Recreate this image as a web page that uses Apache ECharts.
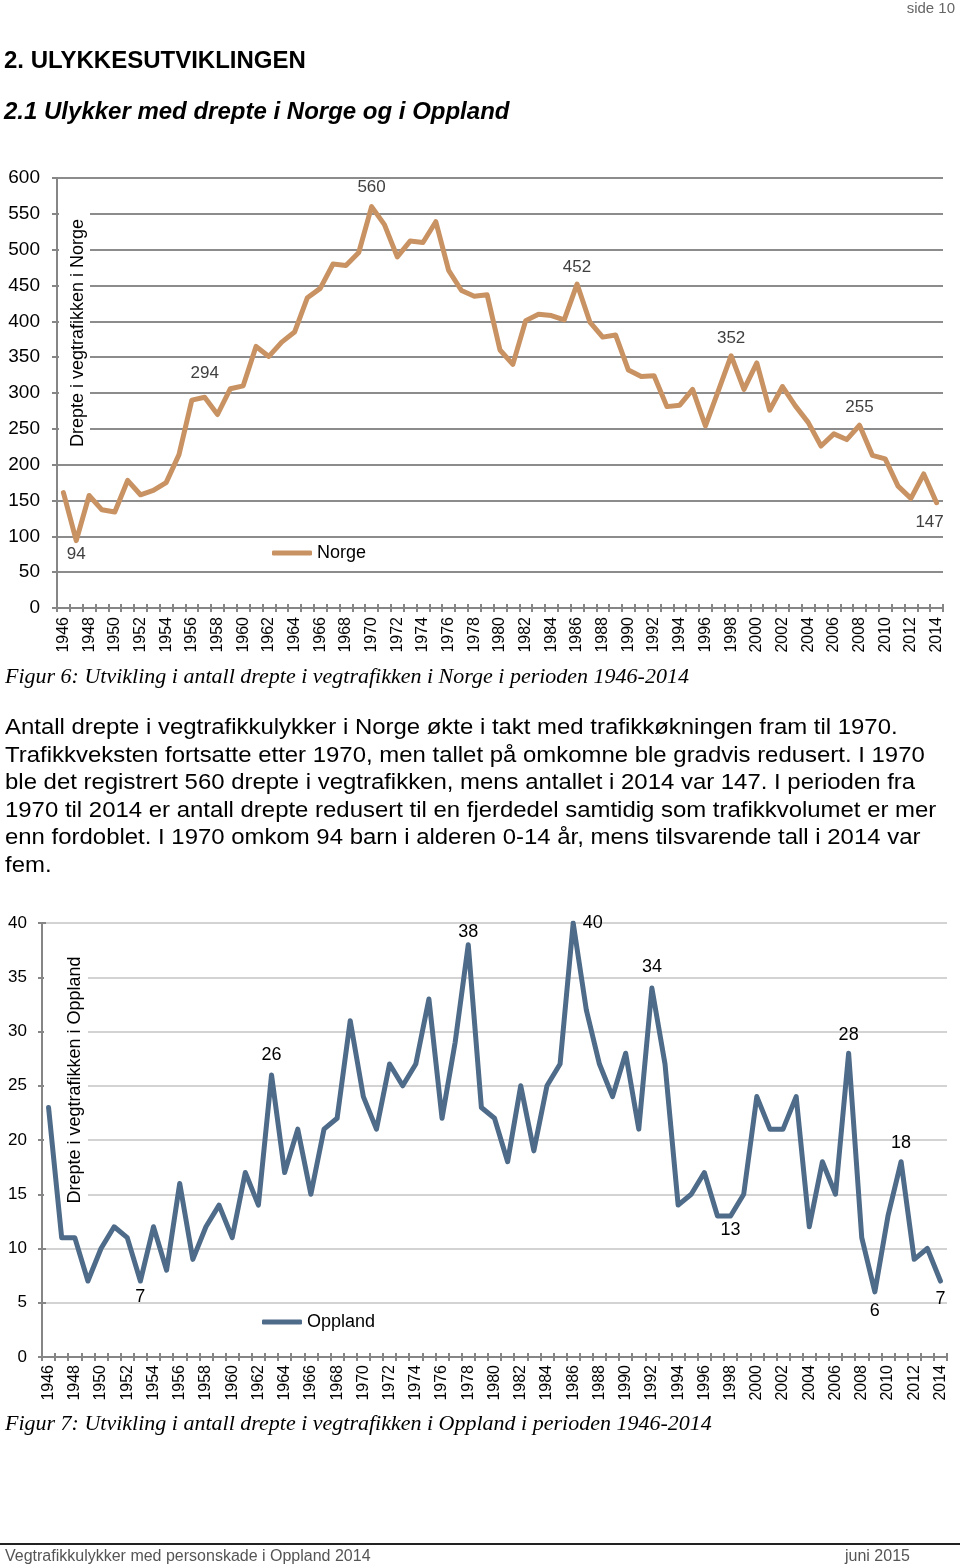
<!DOCTYPE html>
<html>
<head>
<meta charset="utf-8">
<script src="https://cdn.jsdelivr.net/npm/echarts@6/dist/echarts.min.js"></script>
<style>
  html, body { margin:0; padding:0; background:#fff; }
  body { width:960px; height:1567px; position:relative; overflow:hidden; font-family:'Liberation Sans', Arial, sans-serif; }
  #chart { position:absolute; left:0; top:0; width:960px; height:1567px; }
  .t { position:absolute; white-space:nowrap; z-index:5; transform-origin:0 50%; }
  .side { right:5px; top:0px; font-size:15px; line-height:15px; color:#666; }
  .h1 { left:4px; top:47px; font-size:24px; line-height:26px; font-weight:bold; color:#000; }
  .h2 { left:4px; top:98px; font-size:24px; line-height:26px; font-weight:bold; font-style:italic; color:#000; }
  .cap { left:5px; font-family:'Liberation Serif', 'Times New Roman', serif; font-style:italic; font-size:20px; line-height:22px; color:#000; transform:scaleX(1.1); }
  .p { left:5px; font-size:22px; line-height:24px; color:#000; transform:scaleX(1.088); }
  .foot { top:1547px; font-size:16px; line-height:18px; color:#555; }
  #rule { position:absolute; left:0; top:1543px; width:960px; height:2px; background:#222; z-index:5; }
</style>
</head>
<body>
<div id="chart"></div>
<div class="t side">side 10</div>
<div class="t h1">2. ULYKKESUTVIKLINGEN</div>
<div class="t h2">2.1 Ulykker med drepte i Norge og i Oppland</div>
<div class="t cap" style="top:665px">Figur 6: Utvikling i antall drepte i vegtrafikken i Norge i perioden 1946-2014</div>
<div class="t p" style="top:715px">Antall drepte i vegtrafikkulykker i Norge økte i takt med trafikkøkningen fram til 1970.</div>
<div class="t p" style="top:743px">Trafikkveksten fortsatte etter 1970, men tallet på omkomne ble gradvis redusert. I 1970</div>
<div class="t p" style="top:770px">ble det registrert 560 drepte i vegtrafikken, mens antallet i 2014 var 147. I perioden fra</div>
<div class="t p" style="top:798px">1970 til 2014 er antall drepte redusert til en fjerdedel samtidig som trafikkvolumet er mer</div>
<div class="t p" style="top:825px">enn fordoblet. I 1970 omkom 94 barn i alderen 0-14 år, mens tilsvarende tall i 2014 var</div>
<div class="t p" style="top:853px">fem.</div>
<div class="t cap" style="top:1412px">Figur 7: Utvikling i antall drepte i vegtrafikken i Oppland i perioden 1946-2014</div>
<div id="rule"></div>
<div class="t foot" style="left:5px">Vegtrafikkulykker med personskade i Oppland 2014</div>
<div class="t foot" style="left:845px">juni 2015</div>
<script>
// ---- data ----
const years = ['1946','1947','1948','1949','1950','1951','1952','1953','1954','1955',
  '1956','1957','1958','1959','1960','1961','1962','1963','1964','1965',
  '1966','1967','1968','1969','1970','1971','1972','1973','1974','1975',
  '1976','1977','1978','1979','1980','1981','1982','1983','1984','1985',
  '1986','1987','1988','1989','1990','1991','1992','1993','1994','1995',
  '1996','1997','1998','1999','2000','2001','2002','2003','2004','2005',
  '2006','2007','2008','2009','2010','2011','2012','2013','2014'];
const norge = [161, 94, 157, 137, 134, 178, 158, 164, 175, 214,
  290, 294, 270, 306, 310, 365, 351, 371, 385, 433,
  446, 480, 478, 496, 560, 535, 490, 512, 510, 539,
  471, 443, 435, 437, 360, 340, 401, 410, 408, 402,
  452, 399, 378, 381, 332, 323, 324, 281, 283, 305,
  254, 303, 352, 305, 342, 276, 309, 282, 259, 226,
  243, 235, 255, 213, 208, 170, 153, 187, 147];
const oppland = [23, 11, 11, 7, 10, 12, 11, 7, 12, 8,
  16, 9, 12, 14, 11, 17, 14, 26, 17, 21,
  15, 21, 22, 31, 24, 21, 27, 25, 27, 33,
  22, 29, 38, 23, 22, 18, 25, 19, 25, 27,
  40, 32, 27, 24, 28, 21, 34, 27, 14, 15,
  17, 13, 13, 15, 24, 21, 21, 24, 12, 18,
  15, 28, 11, 6, 13, 18, 9, 10, 7];
const norgeTicks = [0, 600, 50];
const opplandTicks = [0, 40, 5];
const norgeLabelled = ['1947','1957','1970','1986','1998','2008','2014'];
const opplandLabelled = ['1953','1963','1978','1986','1992','1998','2007','2009','2011','2014'];

// ---- styles (label placement per labelled year) ----
const norgeLabelStyle = {
  '1947': {position:'bottom', distance:5},
  '1957': {position:'top', distance:15},
  '1970': {position:'top', distance:10},
  '1986': {position:'top', distance:8},
  '1998': {position:'top', distance:8},
  '2008': {position:'top', distance:9},
  '2014': {position:'bottom', distance:11, offset:[-7,0]}
};
const opplandLabelStyle = {
  '1953': {position:'bottom', distance:6},
  '1963': {position:'top', distance:10},
  '1978': {position:'top', distance:3},
  '1986': {position:'right', distance:9},
  '1992': {position:'top', distance:12},
  '1998': {position:'bottom', distance:5},
  '2007': {position:'top', distance:9},
  '2009': {position:'bottom', distance:10},
  '2011': {position:'top', distance:9},
  '2014': {position:'bottom', distance:8}
};

const FONT = "'Liberation Sans', Arial, sans-serif";
const NORGE_C = '#C99263';
const OPP_C = '#4E6B89';
const AXIS_C = '#868686';

function items(vals, labelled, styles, lblColor, fs) {
  return vals.map((v, i) => {
    const y = years[i];
    if (labelled.indexOf(y) < 0) return v;
    const s = styles[y];
    return {
      value: v, symbol: 'circle', symbolSize: 1,
      label: Object.assign({show: true, color: lblColor, fontSize: fs, fontFamily: FONT}, s)
    };
  });
}

const chart = echarts.init(document.getElementById('chart'), null, {renderer: 'canvas'});

function xAx(grid, fs, margin) {
  return [{
    gridIndex: grid, type: 'category', data: years, boundaryGap: true, position: 'bottom',
    axisLine: {show: true, lineStyle: {color: AXIS_C, width: 2}},
    axisTick: {show: true, interval: 0, length: 4, lineStyle: {color: AXIS_C, width: 2}},
    axisLabel: {interval: 1, rotate: 90, fontSize: fs, color: '#000', margin: margin, fontFamily: FONT},
    splitLine: {show: false}
  }, {
    gridIndex: grid, type: 'category', data: years, boundaryGap: true, position: 'bottom',
    axisLine: {show: false},
    axisTick: {show: true, inside: true, interval: 0, length: 4, lineStyle: {color: AXIS_C, width: 2}},
    axisLabel: {show: false}, splitLine: {show: false}
  }];
}

const option = {
  animation: false,
  textStyle: {fontFamily: FONT},
  grid: [
    {left: 57, top: 178, width: 886, height: 430, containLabel: false, outerBoundsMode: 'none'},
    {left: 42, top: 923, width: 905, height: 434, containLabel: false, outerBoundsMode: 'none'}
  ],
  xAxis: [].concat(xAx(0, 16, 9), xAx(1, 16, 8)),
  yAxis: [
    {gridIndex: 0, type: 'value', min: norgeTicks[0], max: norgeTicks[1], interval: norgeTicks[2],
      axisLine: {show: true, lineStyle: {color: AXIS_C, width: 2}},
      axisTick: {show: true, length: 5, lineStyle: {color: AXIS_C, width: 2}},
      splitLine: {show: true, lineStyle: {color: '#8C8C8C', width: 2}},
      axisLabel: {fontSize: 19, color: '#000', margin: 17, fontFamily: FONT}},
    {gridIndex: 1, type: 'value', min: opplandTicks[0], max: opplandTicks[1], interval: opplandTicks[2],
      axisLine: {show: true, lineStyle: {color: AXIS_C, width: 2}},
      axisTick: {show: true, length: 4, lineStyle: {color: AXIS_C, width: 2}},
      splitLine: {show: true, lineStyle: {color: '#C4C4C4', width: 1.5}},
      axisLabel: {fontSize: 17, color: '#000', margin: 15, fontFamily: FONT}},
    {gridIndex: 1, type: 'value', min: opplandTicks[0], max: opplandTicks[1], interval: opplandTicks[2], position: 'left',
      axisLine: {show: false}, splitLine: {show: false}, axisLabel: {show: false},
      axisTick: {show: true, inside: true, length: 4, lineStyle: {color: AXIS_C, width: 2}}}
  ],
  legend: [
    {data: [{name: 'Norge', icon: 'roundRect'}], left: 272, top: 544, itemWidth: 40, itemHeight: 5,
      textStyle: {fontSize: 18, color: '#000', fontFamily: FONT}, padding: 0, selectedMode: false},
    {data: [{name: 'Oppland', icon: 'roundRect'}], left: 262, top: 1313, itemWidth: 40, itemHeight: 5,
      textStyle: {fontSize: 18, color: '#000', fontFamily: FONT}, padding: 0, selectedMode: false}
  ],
  graphic: [
    {type: 'rect', z: 1, shape: {x: 59, y: 205, width: 31, height: 248}, style: {fill: '#fff'}},
    {type: 'text', z: 1, x: 78, y: 333, rotation: Math.PI / 2,
      style: {text: 'Drepte i vegtrafikken i Norge', fontSize: 18, fontFamily: FONT, fill: '#000', align: 'center', verticalAlign: 'middle'}},
    {type: 'rect', z: 1, shape: {x: 44, y: 950, width: 44, height: 262}, style: {fill: '#fff'}},
    {type: 'text', z: 1, x: 75, y: 1080, rotation: Math.PI / 2,
      style: {text: 'Drepte i vegtrafikken i Oppland', fontSize: 18, fontFamily: FONT, fill: '#000', align: 'center', verticalAlign: 'middle'}}
  ],
  series: [
    {name: 'Norge', type: 'line', xAxisIndex: 0, yAxisIndex: 0, color: NORGE_C,
      symbol: 'none', showSymbol: true,
      lineStyle: {color: NORGE_C, width: 5, cap: 'round', join: 'round'},
      itemStyle: {color: NORGE_C},
      data: items(norge, norgeLabelled, norgeLabelStyle, '#404040', 17), z: 3},
    {name: 'Oppland', type: 'line', xAxisIndex: 2, yAxisIndex: 1, color: OPP_C,
      symbol: 'none', showSymbol: true,
      lineStyle: {color: OPP_C, width: 5, cap: 'round', join: 'round'},
      itemStyle: {color: OPP_C},
      data: items(oppland, opplandLabelled, opplandLabelStyle, '#000', 18), z: 3}
  ]
};
chart.setOption(option);
</script>
</body>
</html>
